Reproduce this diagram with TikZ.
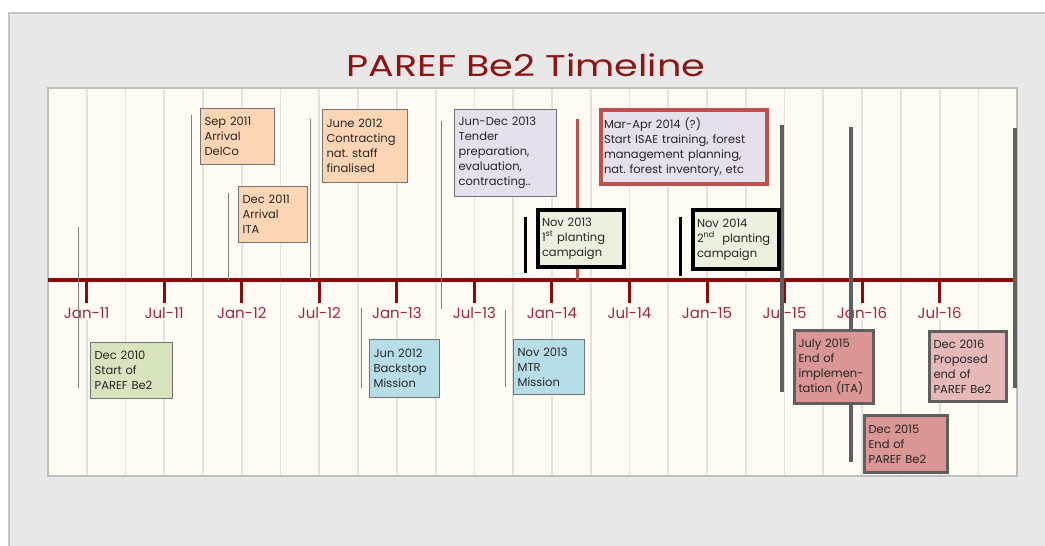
\documentclass[tikz,border=0pt]{standalone}
\usepackage{fontspec}
\setmainfont{Poppins}
\frenchspacing
\definecolor{panelgray}{HTML}{E8E8E8}
\definecolor{panelline}{HTML}{C4C4C4}
\definecolor{chartfill}{HTML}{FDFBF4}
\definecolor{chartline}{HTML}{BFBFBF}
\definecolor{gridgray}{HTML}{E4E2DD}
\definecolor{axisred}{HTML}{8B0A0A}
\definecolor{ticklabel}{HTML}{A0283C}
\definecolor{titlered}{HTML}{8B1515}
\definecolor{boxgreen}{HTML}{D7E4BD}
\definecolor{boxpeach}{HTML}{FCD5B5}
\definecolor{boxlilac}{HTML}{E5E0EC}
\definecolor{boxblue}{HTML}{B7DEE8}
\definecolor{boxmint}{HTML}{EBF1DE}
\definecolor{boxrose}{HTML}{D99694}
\definecolor{boxpink}{HTML}{E6B9B8}
\definecolor{markred}{HTML}{C0504D}
\definecolor{markgray}{HTML}{5F5F5F}
\begin{document}
\begin{tikzpicture}[x=1pt,y=-1pt,
  gridline/.style={draw=gridgray,line width=1.8pt},
  thin-mark/.style={draw=black!50,line width=1pt},
  thick-mark/.style={draw=markgray,line width=3.5pt},
  event-box/.style={draw=black!55,line width=1.2pt,anchor=north west,align=left,inner xsep=4pt,inner ysep=2pt,font=\fontsize{11.5}{15}\selectfont,text=black!85}]
\useasboundingbox (0,0) rectangle (1045,546);
\path[fill=white] (0,0) rectangle (1045,546);
\path[fill=panelgray] (9,13) rectangle (1045,546);
\path[draw=panelline,line width=2pt] (9,546) -- (9,13) -- (1045,13);
\node[font=\fontsize{30}{32}\selectfont,text=titlered,anchor=base,inner sep=0pt] (chart-title) at (526,76) {\scalebox{1.27}[1]{PAREF Be2 Timeline}};
\path[fill=chartfill,draw=chartline,line width=2pt] (48,88) rectangle (1017,476);
\foreach \k in {0,...,23}
  \path[gridline] (86.7+\k*38.77,89) -- (86.7+\k*38.77,475);
\coordinate (axis-start) at (48,280);
\coordinate (axis-end) at (1017,280);
\draw[draw=axisred,line width=4pt] (axis-start) -- (axis-end);
\foreach \k/\lab in {0/Jan-11,2/Jul-11,4/Jan-12,6/Jul-12,8/Jan-13,10/Jul-13,12/Jan-14,14/Jul-14,16/Jan-15,18/Jul-15,20/Jan-16,22/Jul-16}{
  \coordinate (tick-\k) at (86.7+\k*38.77,280);
  \draw[draw=axisred,line width=3pt] (tick-\k) -- ++(0,23);
  \node[anchor=base,fill=chartfill,inner xsep=1pt,inner ysep=2pt,text=ticklabel,font=\fontsize{15}{17}\selectfont] (tick-label-\k) at (86.7+\k*38.77,318) {\lab};
}
\coordinate (mark-dec10-top) at (78,227);
\coordinate (mark-dec10-bot) at (78,388);
\coordinate (mark-sep11-top) at (191,115);
\coordinate (mark-sep11-bot) at (191,280);
\coordinate (mark-dec11-top) at (228,193);
\coordinate (mark-dec11-bot) at (228,280);
\coordinate (mark-jun12-top) at (310,119);
\coordinate (mark-jun12-bot) at (310,280);
\coordinate (mark-tender-top) at (441,121);
\coordinate (mark-tender-bot) at (441,309);
\coordinate (mark-backstop-top) at (361,308);
\coordinate (mark-backstop-bot) at (361,388);
\coordinate (mark-mtr-top) at (505,310);
\coordinate (mark-mtr-bot) at (505,387);
\coordinate (mark-isae-top) at (577,119);
\coordinate (mark-isae-bot) at (577,280);
\coordinate (mark-nov13-top) at (525,217);
\coordinate (mark-nov13-bot) at (525,273);
\coordinate (mark-nov14-top) at (680,217);
\coordinate (mark-nov14-bot) at (680,276);
\coordinate (mark-jul15-top) at (782,125);
\coordinate (mark-jul15-bot) at (782,392);
\coordinate (mark-dec15-top) at (851,127);
\coordinate (mark-dec15-bot) at (851,462);
\coordinate (mark-dec16-top) at (1015,128);
\coordinate (mark-dec16-bot) at (1015,388);
\foreach \m in {dec10,sep11,dec11,jun12,tender,backstop,mtr}
  \draw[thin-mark] (mark-\m-top) -- (mark-\m-bot);
\draw[draw=markred,line width=3pt] (mark-isae-top) -- (mark-isae-bot);
\draw[draw=black,line width=3pt] (mark-nov13-top) -- (mark-nov13-bot);
\draw[draw=black,line width=3pt] (mark-nov14-top) -- (mark-nov14-bot);
\foreach \m in {jul15,dec15,dec16}
  \draw[thick-mark] (mark-\m-top) -- (mark-\m-bot);
\node[event-box,fill=boxgreen,minimum width=82pt,minimum height=56pt,text width=74pt] (event-dec10) at (90,342) {Dec 2010\\Start of\\PAREF Be2};
\node[event-box,fill=boxpeach,minimum width=74pt,minimum height=56pt,text width=66pt] (event-sep11) at (200,108) {Sep 2011\\Arrival\\DelCo};
\node[event-box,fill=boxpeach,minimum width=69pt,minimum height=56pt,text width=61pt] (event-dec11) at (238,186) {Dec 2011\\Arrival\\ITA};
\node[event-box,fill=boxpeach,minimum width=85pt,minimum height=73pt,text width=77pt] (event-jun12) at (322,109) {June 2012\\Contracting\\nat. staff\\finalised};
\node[event-box,fill=boxlilac,minimum width=102pt,minimum height=87pt,text width=94pt] (event-tender) at (454,109) {Jun-Dec 2013\\Tender\\preparation,\\evaluation,\\contracting..};
\node[event-box,fill=boxlilac,draw=markred,line width=4pt,inner xsep=3pt,minimum width=166pt,minimum height=74pt,text width=160pt] (event-isae) at (599,108) {Mar-Apr 2014 (?)\\Start ISAE training, forest\\management planning,\\nat. forest inventory, etc};
\node[event-box,fill=boxmint,draw=black,line width=4pt,minimum width=86pt,minimum height=57pt,text width=78pt] (event-nov13) at (536,208) {Nov 2013\\1\textsuperscript{st} planting\\campaign};
\node[event-box,fill=boxmint,draw=black,line width=4pt,minimum width=86pt,minimum height=59pt,text width=78pt] (event-nov14) at (691,208) {Nov 2014\\2\textsuperscript{nd}~ planting\\campaign};
\node[event-box,fill=boxblue,minimum width=70pt,minimum height=58pt,text width=62pt] (event-backstop) at (369,339) {Jun 2012\\Backstop\\Mission};
\node[event-box,fill=boxblue,minimum width=71pt,minimum height=55pt,text width=63pt] (event-mtr) at (513,339) {Nov 2013\\MTR\\Mission};
\node[event-box,fill=boxrose,draw=markgray,line width=3pt,minimum width=79pt,minimum height=73pt,text width=71pt] (event-jul15) at (793,329) {July 2015\\End of\\implemen-\\tation (ITA)};
\node[event-box,fill=boxrose,draw=markgray,line width=3pt,minimum width=83pt,minimum height=57pt,text width=75pt] (event-dec15) at (863,414) {Dec 2015\\End of\\PAREF Be2};
\node[event-box,fill=boxpink,draw=markgray,line width=3pt,minimum width=77pt,minimum height=70pt,text width=69pt] (event-dec16) at (928,330) {Dec 2016\\Proposed\\end of\\PAREF Be2};
\end{tikzpicture}
\end{document}
